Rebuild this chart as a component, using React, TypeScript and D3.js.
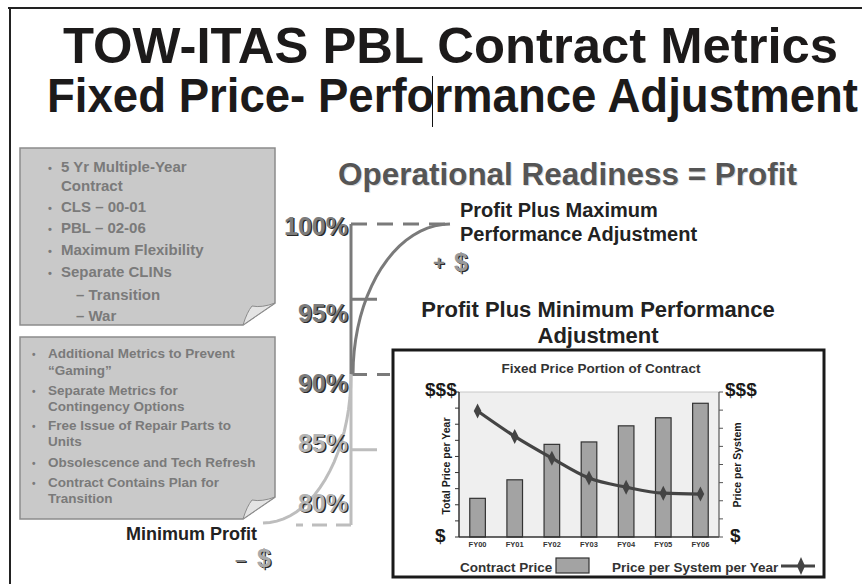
import React from "react";
import * as d3 from "d3";

const categories = ["FY00", "FY01", "FY02", "FY03", "FY04", "FY05", "FY06"];
const contractPrice = [2.4, 3.55, 5.75, 5.9, 6.9, 7.4, 8.3];
const pricePerSystem = [6.95, 5.55, 4.35, 3.25, 2.75, 2.42, 2.37];
const leftTicks = [0, 1, 2, 3, 4, 5, 6, 7, 8, 9];
const rightTicks = [0, 1, 2, 3, 4, 5, 6, 7, 8];
const percentLevels = [100, 95, 90, 85, 80];
const percentLabels = ["100%", "95%", "90%", "85%", "80%"];

const noteTop = [
  { t: "5 Yr Multiple-Year", b: true },
  { t: "Contract", b: false },
  { t: "CLS – 00-01", b: true },
  { t: "PBL – 02-06", b: true },
  { t: "Maximum Flexibility", b: true },
  { t: "Separate CLINs", b: true },
  { t: "– Transition", b: false, sub: true },
  { t: "– War", b: false, sub: true },
];
const noteTopY = [172, 191, 212, 233, 255, 277, 300, 321];

const noteBottom = [
  { t: "Additional Metrics to Prevent", b: true },
  { t: "“Gaming”", b: false },
  { t: "Separate Metrics for", b: true },
  { t: "Contingency Options", b: false },
  { t: "Free Issue of Repair Parts to", b: true },
  { t: "Units", b: false },
  { t: "Obsolescence and Tech Refresh", b: true },
  { t: "Contract Contains Plan for", b: true },
  { t: "Transition", b: false },
];
const noteBottomY = [358, 375, 395, 411, 430, 446, 467, 487, 503];

const FONT = "'Liberation Sans', Arial, Helvetica, sans-serif";

function Shadowed({ x, y, size, fill, anchor = "start", children, len }: any) {
  const extra = len ? { textLength: len, lengthAdjust: "spacingAndGlyphs" } : {};
  return (
    <g fontFamily={FONT} fontWeight="bold" fontSize={size} textAnchor={anchor}>
      <text x={x + 1.3} y={y + 1.3} fill="#2a2a2a" {...extra}>{children}</text>
      <text x={x} y={y} fill={fill} {...extra}>{children}</text>
    </g>
  );
}

export default function App() {
  // Inner chart scales
  const x = d3.scaleBand<string>().domain(categories).range([459, 719]).paddingInner(0.58).paddingOuter(0.29);
  const yL = d3.scaleLinear().domain([0, 9]).range([537, 392]);
  const yR = d3.scaleLinear().domain([0, 8]).range([537, 392]);
  const linePts: [number, number][] = categories.map((c, i) => [x(c)! + x.bandwidth() / 2, yR(pricePerSystem[i])]);
  const lineGen = d3.line().curve(d3.curveMonotoneX);

  // Readiness scale
  const pY = d3.scaleLinear().domain([80, 100]).range([525, 224]);
  const labelY = d3.scaleLinear().domain([80, 85, 90, 95, 100]).range([512, 452, 392, 322, 235]);
  const axisX = 351;
  const upper = d3.path();
  // quarter ellipse upper: from (353, y90) to (450, y100)
  const uTop = pY(100), uBot = pY(90);
  const upperPts: [number, number][] = d3.range(0, 1.0001, 0.05).map((t) => {
    const a = (t * Math.PI) / 2;
    return [450 - 97 * Math.cos(a), uBot - (uBot - uTop) * Math.sin(a)];
  });
  const lBot = pY(80) - 2;
  const lowerPts: [number, number][] = d3.range(0, 1.0001, 0.05).map((t) => {
    const a = (t * Math.PI) / 2;
    return [263 + (axisX - 263) * Math.sin(a), uBot + (lBot - uBot) * Math.cos(a)];
  });
  const smooth = d3.line();

  const diamond = (cx: number, cy: number, w = 3.8, h = 7.5) =>
    `M${cx},${cy - h}L${cx + w},${cy}L${cx},${cy + h}L${cx - w},${cy}Z`;

  return (
    <div style={{ position: "fixed", left: 0, top: 0 }}>
      <svg width={862} height={584} style={{ display: "block", background: "#fff" }}>
        {/* Outer frame */}
        <line x1={8} y1={8} x2={862} y2={8} stroke="#222" strokeWidth={2} />
        <line x1={10} y1={8} x2={10} y2={584} stroke="#222" strokeWidth={2} />

        {/* Titles */}
        <text x={63} y={63} fontFamily={FONT} fontWeight="bold" fontSize={50} fill="#1c1a1a" textLength={775} lengthAdjust="spacingAndGlyphs">
          TOW-ITAS PBL Contract Metrics
        </text>
        <text x={47} y={112} fontFamily={FONT} fontWeight="bold" fontSize={49} fill="#1c1a1a" textLength={811} lengthAdjust="spacingAndGlyphs">
          Fixed Price- Performance Adjustment
        </text>
        <line x1={432.5} y1={76} x2={432.5} y2={127} stroke="#111" strokeWidth={1} />

        {/* Note box 1 */}
        <path d="M20,148 L275,148 L275,303 L243,325 L20,325 Z" fill="#c9c9c9" stroke="#8c8c8c" strokeWidth={1.5} />
        <path d="M243,325 Q247,312 252,306 Q262,308 275,303 Z" fill="#e4e4e4" stroke="#8c8c8c" strokeWidth={1} />
        {noteTop.map((n, i) => (
          <g key={i} fontFamily={FONT} fontWeight="bold" fontSize={15} fill="#7a7a7a">
            {n.b && <text x={48} y={noteTopY[i]} fontSize={11}>•</text>}
            <text x={n.sub ? 76 : 61} y={noteTopY[i]}>{n.t}</text>
          </g>
        ))}

        {/* Note box 2 */}
        <path d="M20,337 L275,337 L275,497 L243,519 L20,519 Z" fill="#c9c9c9" stroke="#8c8c8c" strokeWidth={1.5} />
        <path d="M243,519 Q247,506 252,500 Q262,502 275,497 Z" fill="#e4e4e4" stroke="#8c8c8c" strokeWidth={1} />
        {noteBottom.map((n, i) => (
          <g key={i} fontFamily={FONT} fontWeight="bold" fontSize={13.5} fill="#7a7a7a">
            {n.b && <text x={32} y={noteBottomY[i]} fontSize={10}>•</text>}
            <text x={48} y={noteBottomY[i]}>{n.t}</text>
          </g>
        ))}

        {/* Operational readiness */}
        <text x={338} y={185} fontFamily={FONT} fontWeight="bold" fontSize={31} fill="#dcdcdc" dx={1} dy={1} textLength={459} lengthAdjust="spacingAndGlyphs">
          Operational Readiness = Profit
        </text>
        <text x={338} y={185} fontFamily={FONT} fontWeight="bold" fontSize={31} fill="#555" textLength={459} lengthAdjust="spacingAndGlyphs">
          Operational Readiness = Profit
        </text>

        {/* Readiness diagram: upper (dark) */}
        <line x1={axisX} y1={uTop} x2={axisX} y2={uBot} stroke="#7a7a7a" strokeWidth={3} />
        <line x1={axisX} y1={uTop} x2={450} y2={uTop} stroke="#7a7a7a" strokeWidth={3} strokeDasharray="16,10" />
        <line x1={axisX} y1={uBot} x2={390} y2={uBot} stroke="#7a7a7a" strokeWidth={3} strokeDasharray="16,10" />
        <line x1={axisX - 1} y1={pY(95)} x2={377} y2={pY(95)} stroke="#7a7a7a" strokeWidth={3} />
        <path d={smooth(upperPts)!} fill="none" stroke="#7a7a7a" strokeWidth={3} />
        {/* lower (light) */}
        <line x1={axisX} y1={uBot} x2={axisX} y2={pY(80)} stroke="#bdbdbd" strokeWidth={3} />
        <line x1={axisX} y1={pY(80)} x2={296} y2={pY(80)} stroke="#bdbdbd" strokeWidth={3} strokeDasharray="15,9" />
        <line x1={axisX} y1={pY(85)} x2={377} y2={pY(85)} stroke="#bdbdbd" strokeWidth={3} />
        <path d={smooth(lowerPts)!} fill="none" stroke="#bdbdbd" strokeWidth={3} />

        {percentLevels.map((p, i) => (
          <Shadowed key={p} x={348} y={labelY(p)} size={25} anchor="end" fill={p >= 90 ? "#7c7c7c" : "#b4b4b4"}>
            {percentLabels[i]}
          </Shadowed>
        ))}

        {/* Labels */}
        <g fontFamily={FONT} fontWeight="bold" fill="#222">
          <text x={460} y={217} fontSize={20}>Profit Plus Maximum</text>
          <text x={460} y={241} fontSize={20}>Performance Adjustment</text>
          <text x={598} y={317} fontSize={22} textAnchor="middle">Profit Plus Minimum Performance</text>
          <text x={598} y={343} fontSize={22} textAnchor="middle">Adjustment</text>
          <text x={126} y={540} fontSize={18}>Minimum Profit</text>
        </g>
        <Shadowed x={433} y={270} size={20} fill="#888">+</Shadowed>
        <Shadowed x={454} y={271} size={25} fill="#999">$</Shadowed>
        <Shadowed x={235} y={566} size={20} fill="#888">–</Shadowed>
        <Shadowed x={257} y={567} size={25} fill="#aaa">$</Shadowed>

        {/* Inner chart box */}
        <rect x={393} y={350} width={431} height={227} fill="#fff" stroke="#1a1a1a" strokeWidth={3} />
        <text x={601} y={373} fontFamily={FONT} fontWeight="bold" fontSize={13.5} fill="#333" textAnchor="middle">
          Fixed Price Portion of Contract
        </text>
        <rect x={459} y={392} width={260} height={145} fill="#efefef" />
        <line x1={459} y1={392} x2={719} y2={392} stroke="#c8c8c8" strokeWidth={1} />

        {contractPrice.map((v, i) => (
          <rect key={i} x={x(categories[i])} y={yL(v)} width={x.bandwidth()} height={yL(0) - yL(v)} fill="#a3a3a3" stroke="#333" strokeWidth={1.2} />
        ))}

        <path d={lineGen(linePts)!} fill="none" stroke="#444" strokeWidth={3.2} />
        {linePts.map((p, i) => (
          <path key={i} d={diamond(p[0], p[1])} fill="#444" />
        ))}

        {/* axes */}
        <line x1={459} y1={392} x2={459} y2={537} stroke="#333" strokeWidth={1.5} />
        <line x1={459} y1={537} x2={719} y2={537} stroke="#333" strokeWidth={1.5} />
        <line x1={719} y1={392} x2={719} y2={537} stroke="#555" strokeWidth={1.2} />
        {leftTicks.map((t) => (
          <line key={t} x1={455} y1={yL(t)} x2={459} y2={yL(t)} stroke="#333" strokeWidth={1} />
        ))}
        {rightTicks.map((t) => (
          <line key={t} x1={719} y1={yR(t)} x2={723} y2={yR(t)} stroke="#555" strokeWidth={1} />
        ))}
        {categories.map((c) => (
          <text key={c} x={x(c)! + x.bandwidth() / 2} y={547} fontFamily={FONT} fontWeight="bold" fontSize={7.5} fill="#333" textAnchor="middle">
            {c}
          </text>
        ))}

        <g fontFamily={FONT} fontWeight="bold" fill="#1a1a1a">
          <text x={425} y={396} fontSize={19}>$$$</text>
          <text x={435} y={542} fontSize={19}>$</text>
          <text x={725} y={396} fontSize={19}>$$$</text>
          <text x={730} y={542} fontSize={19}>$</text>
          <text transform="translate(450,466) rotate(-90)" fontSize={10.5} textAnchor="middle">Total Price per Year</text>
          <text transform="translate(741,465) rotate(-90)" fontSize={10.5} textAnchor="middle">Price per System</text>
        </g>

        {/* Legend */}
        <g fontFamily={FONT} fontWeight="bold" fontSize={13.5} fill="#333">
          <text x={460} y={572}>Contract Price</text>
          <text x={612} y={572}>Price per System per Year</text>
        </g>
        <rect x={556} y={558} width={33} height={15} fill="#a3a3a3" stroke="#333" strokeWidth={1.2} />
        <line x1={781} y1={566} x2={815} y2={566} stroke="#444" strokeWidth={3.2} />
        <path d={diamond(801, 566, 4, 9)} fill="#444" />
      </svg>
    </div>
  );
}
